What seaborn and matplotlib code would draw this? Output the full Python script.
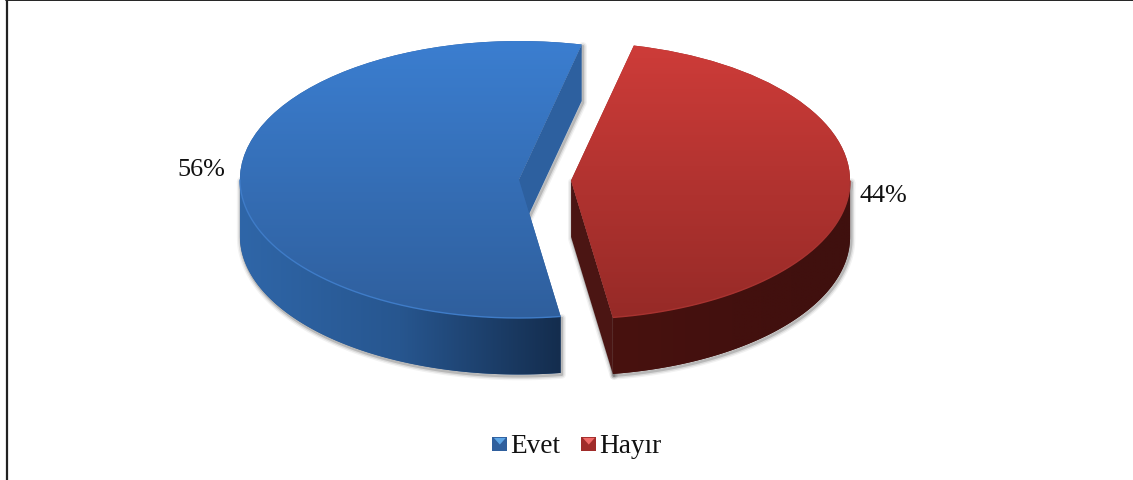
#!/usr/bin/env python3
# -*- coding: utf-8 -*-
# 3D-looking exploded pie: Evet / Hayir
import numpy as np
import seaborn as sns
import matplotlib
matplotlib.use("Agg")
import matplotlib.pyplot as plt
from matplotlib.legend_handler import HandlerBase
from matplotlib.lines import Line2D
from matplotlib.patches import Patch, Polygon, Rectangle

# ---- data ----
categories = ["Evet", "Hayır"]
values = [56, 44]
pct_labels = ["56%", "44%"]

# ---- colours (top of slice, side of slice, cut face) ----
top_colors = [["#3b7ed0", "#2f5f9d"], ["#ce3c39", "#962a27"]]
side_colors = [["#2f66a8", "#27568f", "#142d4e"], ["#48120f", "#43100e", "#3f100e"]]
cut_colors = ["#2d609f", "#4b1513"]
rim_colors = ["#3f7cc8", "#a83330"]
legend_colors = [("#2f5f9d", "#5ea6e6"), ("#a02c2a", "#f06a68")]

# ---- geometry in pixels of the 1133x481 picture ----
W, H = 1133, 481
CX, CY = 545, 181
RX, RY = 279, 138.5
DEPTH = 56.5 / RY

sns.set_theme(style="white")
plt.rcParams["font.family"] = ["Liberation Serif", "DejaVu Serif"]

fig = plt.figure(figsize=(W / 100, H / 100), dpi=100)
ax = fig.add_axes([0, 0, 1, 1])

wedges, _ = ax.pie(values, startangle=77, explode=[0.0935, 0.0935],
                   radius=1, wedgeprops={"linewidth": 0})
ax.set_aspect("auto")


def gradient(patch, colors, extent, vertical, zorder):
    """fill a patch with a seaborn blended gradient, clipped to the patch"""
    cmap = sns.blend_palette(colors, n_colors=128, as_cmap=True)
    ramp = np.linspace(0, 1, 128)
    ramp = ramp[:, None] if vertical else ramp[None, :]
    im = ax.imshow(ramp, cmap=cmap, extent=extent, aspect="auto",
                   origin="upper", zorder=zorder, interpolation="bilinear")
    im.set_clip_path(patch)


def shadow(xy, zorder):
    """soft grey halo behind the extruded part"""
    for lw, alpha in [(6, 0.05), (4, 0.09), (2, 0.16)]:
        ax.add_patch(Polygon(xy + np.array([0.004, -0.012]), closed=True, fill=False,
                             edgecolor="black", alpha=alpha, linewidth=lw,
                             joinstyle="round", zorder=zorder))


for i, w in enumerate(wedges):
    cx, cy = w.center
    t1, t2 = w.theta1, w.theta2

    # outer side wall: the front part of the rim, dropped by DEPTH
    a = np.radians(np.linspace(max(t1, 180), min(t2, 360), 160))
    rim = np.column_stack([cx + np.cos(a), cy + np.sin(a)])
    low = rim[::-1] - [0, DEPTH]
    wall_xy = np.vstack([rim, low])

    # flat cut face running from the apex to the rim at theta1
    b = np.radians(t1)
    edge = np.array([cx + np.cos(b), cy + np.sin(b)])
    apex = np.array([cx, cy])
    cut_xy = np.array([apex, edge, edge - [0, DEPTH], apex - [0, DEPTH]])

    shadow(wall_xy, 1)
    shadow(cut_xy, 1)

    cut = Polygon(cut_xy, closed=True, facecolor=cut_colors[i], edgecolor="none", zorder=3)
    ax.add_patch(cut)

    wall = Polygon(wall_xy, closed=True, facecolor=side_colors[i][1], edgecolor="none", zorder=3)
    ax.add_patch(wall)
    gradient(wall, side_colors[i],
             [rim[:, 0].min(), rim[:, 0].max(), cy - 1 - DEPTH, cy], False, 4)

    # top face
    w.set_facecolor(top_colors[i][1])
    w.set_zorder(5)
    gradient(w, top_colors[i], [cx - 1, cx + 1, cy - 1, cy + 1], True, 6)
    ax.plot(rim[:, 0], rim[:, 1], color=rim_colors[i], linewidth=1.0, zorder=7,
            solid_capstyle="butt")

ax.set_xlim(-CX / RX, (W - CX) / RX)
ax.set_ylim(-(H - CY) / RY, CY / RY)

# percentage labels
label_pos = [(201, 170), (883, 196)]
for txt, (px, py) in zip(pct_labels, label_pos):
    ax.text(px / W, 1 - py / H, txt, transform=ax.transAxes, fontsize=18.8,
            ha="center", va="center", color="#111111", zorder=8)


class BevelSquare(HandlerBase):
    """legend key: dark square with a light triangle on the top edge"""
    def create_artists(self, legend, orig, xd, yd, width, height, fontsize, trans):
        dark, light = orig.get_facecolor(), orig.get_edgecolor()
        s = 10.6
        x0 = width - s + 1.2
        y0 = (height - s) / 2 - yd - 1
        sq = Rectangle((x0, y0), s, s, facecolor=dark, edgecolor="none", transform=trans)
        tri = Polygon([(x0 + 1, y0 + s - 1), (x0 + s - 1, y0 + s - 1), (x0 + s / 2, y0 + s / 2 - 0.5)],
                      closed=True, facecolor=light, edgecolor="none", transform=trans)
        return [sq, tri]


handles = [Patch(facecolor=d, edgecolor=l) for d, l in legend_colors]
ax.legend(handles, categories, handler_map={Patch: BevelSquare()}, ncol=2, frameon=False,
          loc="center", bbox_to_anchor=(576.5 / W, 1 - 446.5 / H), fontsize=19.6,
          labelcolor="#111111", handlelength=0.52, handletextpad=0.18, columnspacing=0.73)

# picture frame: only the left and top lines exist
fig.add_artist(Line2D([6.5 / W, 6.5 / W], [0, 1], color="#222222", linewidth=1.6))
fig.add_artist(Line2D([6 / W, 1], [1 - 0.7 / H, 1 - 0.7 / H], color="#222222", linewidth=1.4))

fig.savefig("out.png", dpi=100)
